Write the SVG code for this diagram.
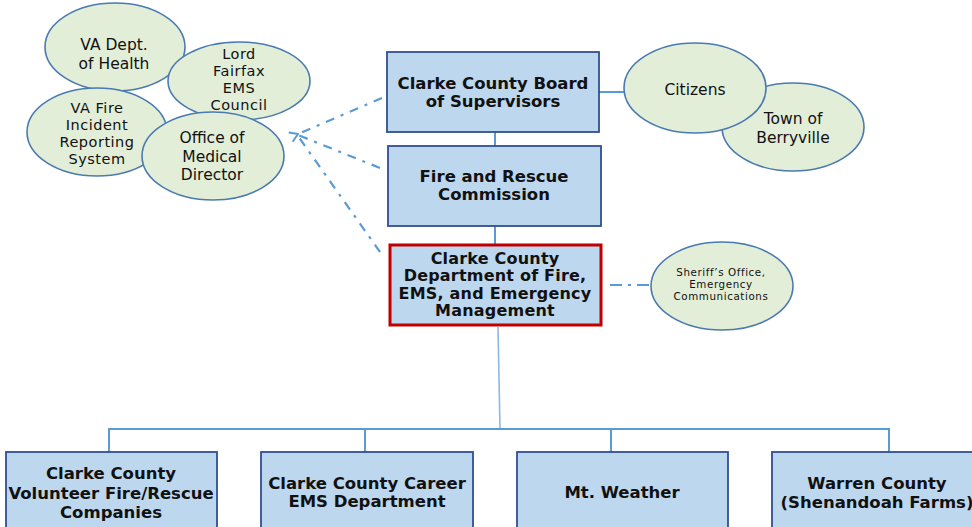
<svg xmlns="http://www.w3.org/2000/svg" width="972" height="527" viewBox="0 0 972 527">
<style>
.box{fill:#BDD7EE;stroke:#2F4F8F;stroke-width:1.8}
.red{fill:#BDD7EE;stroke:#C00000;stroke-width:3}
.ell{fill:#E2EED8;stroke:#4A7AB0;stroke-width:1.6}
.bt{font-family:"DejaVu Sans",Verdana,sans-serif;font-weight:bold;font-size:16.5px;fill:#111;text-anchor:middle}
.dt{font-family:"DejaVu Sans",Verdana,sans-serif;font-weight:bold;font-size:16px;letter-spacing:0.2px;fill:#111;text-anchor:middle}
.et{font-family:"DejaVu Sans",Verdana,sans-serif;font-size:15.5px;fill:#111;text-anchor:middle}
.et4{font-family:"DejaVu Sans",Verdana,sans-serif;font-size:14.5px;letter-spacing:0.5px;fill:#111;text-anchor:middle}
.st{font-family:"DejaVu Sans",Verdana,sans-serif;font-size:10.3px;letter-spacing:0.6px;fill:#111;text-anchor:middle}
.solid{stroke:#5B9BD5;stroke-width:2;fill:none}
.thin{stroke:#8DB8E2;stroke-width:1.6;fill:none}
.dash{stroke:#5B9BD5;stroke-width:2.2;fill:none;stroke-dasharray:9 7 3 7}
</style>
<defs>
<marker id="arr" markerWidth="12" markerHeight="12" refX="1" refY="6" orient="auto-start-reverse" markerUnits="userSpaceOnUse">
<path d="M9,1 L1,6 L9,11" fill="none" stroke="#5B9BD5" stroke-width="2"/>
</marker>
</defs>
<g id="connectors">
<line class="solid" x1="495" y1="132" x2="495" y2="146"/>
<line class="solid" x1="495" y1="226" x2="495" y2="245"/>
<line class="thin" x1="498" y1="327" x2="500" y2="429"/>
<polyline class="solid" points="109,452 109,429 889,429 889,452"/>
<line class="solid" x1="365" y1="429" x2="365" y2="452"/>
<line class="solid" x1="611" y1="429" x2="611" y2="452"/>
<line class="solid" x1="599" y1="92" x2="625" y2="92"/>
<line class="dash" x1="610" y1="285" x2="651" y2="285" style="stroke-dasharray:12 6 3 6"/>
<line class="dash" x1="382" y1="98" x2="298" y2="134" marker-end="url(#arr)"/>
<line class="dash" x1="380" y1="168" x2="298" y2="135"/>
<line class="dash" x1="380" y1="252" x2="298" y2="136"/>
</g>
<g id="va-health"><ellipse class="ell" cx="115" cy="47" rx="70" ry="44"/>
<text class="et" x="114" y="50">VA Dept.</text><text class="et" x="114" y="68.5">of Health</text></g>
<g id="lord-fairfax"><ellipse class="ell" cx="239" cy="81" rx="71" ry="39"/>
<text class="et4" x="239" y="59">Lord</text><text class="et4" x="239" y="76">Fairfax</text><text class="et4" x="239" y="93">EMS</text><text class="et4" x="239" y="110">Council</text></g>
<g id="va-fire"><ellipse class="ell" cx="97" cy="132" rx="70" ry="44"/>
<text class="et4" x="97" y="113">VA Fire</text><text class="et4" x="97" y="130">Incident</text><text class="et4" x="97" y="147">Reporting</text><text class="et4" x="97" y="164">System</text></g>
<g id="medical-director"><ellipse class="ell" cx="213" cy="156" rx="71" ry="44"/>
<text class="et" x="212" y="143">Office of</text><text class="et" x="212" y="161.5">Medical</text><text class="et" x="212" y="180">Director</text></g>
<g id="berryville"><ellipse class="ell" cx="793" cy="127" rx="71" ry="44"/>
<text class="et" x="793" y="124">Town of</text><text class="et" x="793" y="143">Berryville</text></g>
<g id="citizens"><ellipse class="ell" cx="695" cy="88" rx="71" ry="45"/>
<text class="et" x="695" y="95">Citizens</text></g>
<g id="sheriff"><ellipse class="ell" cx="722" cy="286" rx="71" ry="44"/>
<text class="st" x="721" y="276">Sheriff’s Office,</text><text class="st" x="721" y="288">Emergency</text><text class="st" x="721" y="300">Communications</text></g>
<g id="board"><rect class="box" x="387" y="52" width="212" height="80"/>
<text class="bt" x="493" y="89">Clarke County Board</text><text class="bt" x="493" y="107">of Supervisors</text></g>
<g id="commission"><rect class="box" x="388" y="146" width="213" height="80"/>
<text class="bt" x="494" y="181.5">Fire and Rescue</text><text class="bt" x="494" y="199.5">Commission</text></g>
<g id="department"><rect class="red" x="390" y="245" width="211" height="80"/>
<text class="dt" x="495" y="263.5">Clarke County</text><text class="dt" x="495" y="281">Department of Fire,</text><text class="dt" x="495" y="298.5">EMS, and Emergency</text><text class="dt" x="495" y="316">Management</text></g>
<g id="volunteer"><rect class="box" x="6" y="452" width="211" height="82"/>
<text class="bt" x="111" y="479">Clarke County</text><text class="bt" x="111" y="499">Volunteer Fire/Rescue</text><text class="bt" x="111" y="518">Companies</text></g>
<g id="career"><rect class="box" x="261" y="452" width="212" height="82"/>
<text class="bt" x="367" y="489">Clarke County Career</text><text class="bt" x="367" y="507">EMS Department</text></g>
<g id="mt-weather"><rect class="box" x="517" y="452" width="211" height="82"/>
<text class="bt" x="622" y="498">Mt. Weather</text></g>
<g id="warren"><rect class="box" x="772" y="452" width="211" height="82"/>
<text class="bt" x="877" y="489">Warren County</text><text class="bt" x="877" y="508">(Shenandoah Farms)</text></g>
</svg>
